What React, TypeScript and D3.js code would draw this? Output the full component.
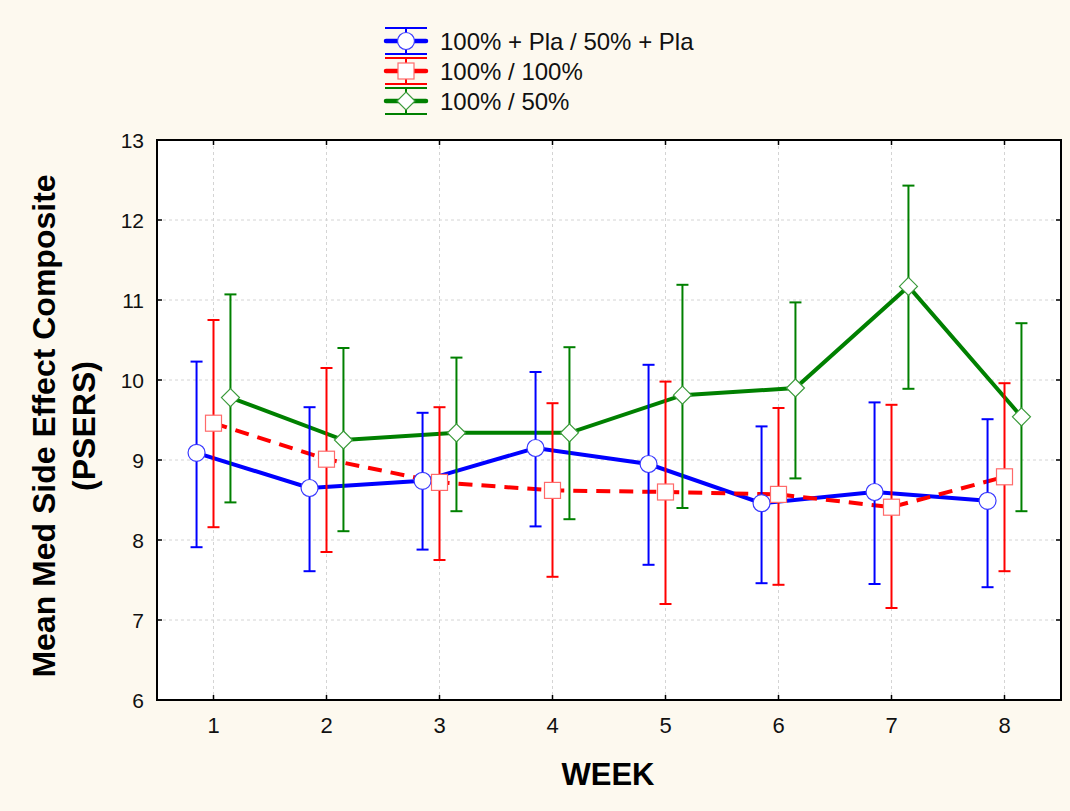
import * as d3 from 'd3';
import { useRef, useEffect } from 'react';

const weeks = [1, 2, 3, 4, 5, 6, 7, 8];
const yTicks = [6, 7, 8, 9, 10, 11, 12, 13];

// means and error bar limits
const plaMean = [9.09, 8.65, 8.74, 9.15, 8.95, 8.46, 8.6, 8.49];
const plaHigh = [10.23, 9.66, 9.59, 10.1, 10.19, 9.42, 9.72, 9.51];
const plaLow = [7.91, 7.61, 7.88, 8.17, 7.69, 7.46, 7.45, 7.41];

const fullMean = [9.46, 9.01, 8.72, 8.62, 8.6, 8.57, 8.41, 8.79];
const fullHigh = [10.75, 10.15, 9.66, 9.71, 9.98, 9.65, 9.69, 9.96];
const fullLow = [8.16, 7.85, 7.75, 7.54, 7.2, 7.44, 7.15, 7.61];

const halfMean = [9.78, 9.25, 9.34, 9.34, 9.81, 9.9, 11.17, 9.54];
const halfHigh = [11.07, 10.4, 10.28, 10.41, 11.19, 10.97, 12.43, 10.71];
const halfLow = [8.47, 8.11, 8.36, 8.26, 8.4, 8.77, 9.89, 8.36];

const series = [
  { name: '100% + Pla / 50% + Pla', color: '#0000ff', marker: 'circle', dash: null, offset: -0.15, mean: plaMean, high: plaHigh, low: plaLow, markerStroke: '#3a3aff' },
  { name: '100% / 100%', color: '#ff0000', marker: 'square', dash: '14,9', offset: 0, mean: fullMean, high: fullHigh, low: fullLow, markerStroke: '#ff6a6a' },
  { name: '100% / 50%', color: '#008000', marker: 'diamond', dash: null, offset: 0.15, mean: halfMean, high: halfHigh, low: halfLow, markerStroke: '#3a9a3a' },
];

const font = 'Arial, "Liberation Sans", sans-serif';

const drawMarker = (g, type, x, y, stroke) => {
  if (type === 'circle') {
    g.append('circle').attr('cx', x).attr('cy', y).attr('r', 8.5)
      .attr('fill', '#fff').attr('stroke', stroke).attr('stroke-width', 1.2);
  } else if (type === 'square') {
    g.append('rect').attr('x', x - 8).attr('y', y - 8).attr('width', 16).attr('height', 16)
      .attr('fill', '#fff').attr('stroke', stroke).attr('stroke-width', 1.2);
  } else {
    g.append('path').attr('d', `M${x},${y - 9}L${x + 9},${y}L${x},${y + 9}L${x - 9},${y}Z`)
      .attr('fill', '#fff').attr('stroke', stroke).attr('stroke-width', 1.2);
  }
};

const ErrorChart = () => {
  const svgRef = useRef();

  useEffect(() => {
    const svg = d3.select(svgRef.current);
    const width = 1070;
    const height = 811;
    const margin = { top: 140, right: 9, bottom: 111, left: 157 };

    svg.attr('width', width).attr('height', height);
    svg.selectAll('*').remove();

    svg.append('rect').attr('width', width).attr('height', height).attr('fill', '#fdf9ef');

    const x = d3.scaleLinear().domain([0.5, 8.5]).range([margin.left, width - margin.right]);
    const y = d3.scaleLinear().domain([6, 13]).range([height - margin.bottom, margin.top]);

    const [x0, x1] = x.range();
    const [y0, y1] = y.range();

    svg.append('rect').attr('x', x0).attr('y', y1).attr('width', x1 - x0).attr('height', y0 - y1).attr('fill', '#fff');

    // grid
    const grid = svg.append('g').attr('stroke', '#d4d4d4').attr('stroke-width', 1).attr('stroke-dasharray', '3,3');
    grid.selectAll('.gy').data(yTicks.slice(1, -1)).enter().append('line')
      .attr('x1', x0).attr('x2', x1).attr('y1', d => y(d)).attr('y2', d => y(d));
    grid.selectAll('.gx').data(weeks).enter().append('line')
      .attr('x1', d => x(d)).attr('x2', d => x(d)).attr('y1', y1).attr('y2', y0);

    // lines
    series.forEach(s => {
      const line = d3.line().x((d, i) => x(weeks[i] + s.offset)).y(d => y(d));
      svg.append('path').datum(s.mean).attr('d', line)
        .attr('fill', 'none').attr('stroke', s.color).attr('stroke-width', 4)
        .attr('stroke-dasharray', s.dash);
    });

    // error bars
    series.forEach(s => {
      const g = svg.append('g').attr('stroke', s.color).attr('stroke-width', 2);
      weeks.forEach((w, i) => {
        const cx = x(w + s.offset);
        g.append('line').attr('x1', cx).attr('x2', cx).attr('y1', y(s.high[i])).attr('y2', y(s.low[i]));
        g.append('line').attr('x1', cx - 6).attr('x2', cx + 6).attr('y1', y(s.high[i])).attr('y2', y(s.high[i]));
        g.append('line').attr('x1', cx - 6).attr('x2', cx + 6).attr('y1', y(s.low[i])).attr('y2', y(s.low[i]));
      });
    });

    // markers
    series.forEach(s => {
      const g = svg.append('g');
      weeks.forEach((w, i) => drawMarker(g, s.marker, x(w + s.offset), y(s.mean[i]), s.markerStroke));
    });

    // frame with inward ticks
    svg.append('rect').attr('x', x0).attr('y', y1).attr('width', x1 - x0).attr('height', y0 - y1)
      .attr('fill', 'none').attr('stroke', '#000').attr('stroke-width', 2);
    const ticks = svg.append('g').attr('stroke', '#000').attr('stroke-width', 1.5);
    yTicks.slice(1, -1).forEach(t => {
      ticks.append('line').attr('x1', x0).attr('x2', x0 + 5).attr('y1', y(t)).attr('y2', y(t));
      ticks.append('line').attr('x1', x1).attr('x2', x1 - 5).attr('y1', y(t)).attr('y2', y(t));
    });
    weeks.forEach(w => {
      ticks.append('line').attr('x1', x(w)).attr('x2', x(w)).attr('y1', y0).attr('y2', y0 - 5);
      ticks.append('line').attr('x1', x(w)).attr('x2', x(w)).attr('y1', y1).attr('y2', y1 + 5);
    });

    // tick labels
    svg.append('g').selectAll('text').data(yTicks).enter().append('text')
      .attr('x', x0 - 13).attr('y', d => y(d) + 7.5)
      .attr('text-anchor', 'end').style('font-family', font).style('font-size', '21px')
      .attr('fill', '#111')
      .text(d => d);
    svg.append('g').selectAll('text').data(weeks).enter().append('text')
      .attr('x', d => x(d)).attr('y', 733)
      .attr('text-anchor', 'middle').style('font-family', font).style('font-size', '22px')
      .attr('fill', '#111')
      .text(d => d);

    svg.append('text')
      .attr('x', 608).attr('y', 785)
      .attr('text-anchor', 'middle').style('font-family', font)
      .style('font-size', '31px').style('font-weight', 'bold')
      .text('WEEK');

    const yt = svg.append('text')
      .attr('transform', `translate(0, 426) rotate(-90)`)
      .attr('text-anchor', 'middle').style('font-family', font)
      .style('font-size', '32px').style('font-weight', 'bold');
    yt.append('tspan').attr('x', 0).attr('y', 55).text('Mean Med Side Effect Composite');
    yt.append('tspan').attr('x', 0).attr('y', 95).text('(PSERS)');

    // legend
    const legend = svg.append('g');
    series.forEach((s, i) => {
      const cy = 41 + i * 30;
      const g = legend.append('g');
      g.append('line').attr('x1', 385).attr('x2', 427).attr('y1', cy - 13).attr('y2', cy - 13).attr('stroke', s.color).attr('stroke-width', 2);
      g.append('line').attr('x1', 385).attr('x2', 427).attr('y1', cy + 13).attr('y2', cy + 13).attr('stroke', s.color).attr('stroke-width', 2);
      g.append('line').attr('x1', 406).attr('x2', 406).attr('y1', cy - 13).attr('y2', cy + 13).attr('stroke', s.color).attr('stroke-width', 2);
      g.append('line').attr('x1', 386).attr('x2', 426).attr('y1', cy).attr('y2', cy).attr('stroke', s.color).attr('stroke-width', 4.5).attr('stroke-linecap', 'round');
      drawMarker(g, s.marker, 406, cy, s.markerStroke);
      g.append('text').attr('x', 440).attr('y', cy + 8.5)
        .style('font-family', font).style('font-size', '24px').attr('fill', '#111')
        .text(s.name);
    });
  }, []);

  return (
    <div style={{ position: 'absolute', left: 0, top: 0 }}>
      <svg ref={svgRef} style={{ display: 'block' }}></svg>
    </div>
  );
};

export default function App() {
  return <ErrorChart />;
}
